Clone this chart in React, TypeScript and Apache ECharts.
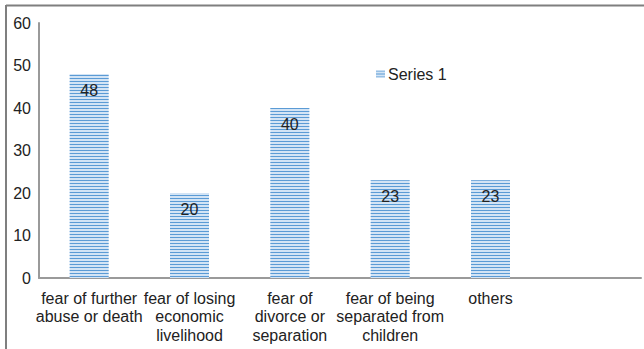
import React, { useEffect, useRef } from "react";
import * as echarts from "echarts";

const categories = [
  "fear of further\nabuse or death",
  "fear of losing\neconomic\nlivelihood",
  "fear of\ndivorce or\nseparation",
  "fear of being\nseparated from\nchildren",
  "others",
  "",
];
const seriesName = "Series 1";
const values: (number | null)[] = [48, 20, 40, 23, 23, null];
const yTicks = { min: 0, max: 60, interval: 10 };

const FONT = "'Liberation Sans', Arial, sans-serif";
const AXIS_GREY = "#9a9a9a";
const STRIPE = "#5b9bd5";
const STRIPE_BG = "#d3e4f5";

export default function App() {
  const ref = useRef<HTMLDivElement>(null);

  useEffect(() => {
    if (!ref.current) return;
    const chart = echarts.init(ref.current, undefined, { renderer: "svg" });
    // horizontal pinstripe fill for the bars and the legend key
    const decal = {
      symbol: "rect",
      symbolSize: 1,
      dashArrayX: [1, 0],
      dashArrayY: [1, 2],
      color: STRIPE,
      rotation: 0,
    };
    chart.setOption({
      animation: false,
      backgroundColor: "#ffffff",
      textStyle: { fontFamily: FONT },
      grid: { left: 39, top: 23, right: 3, bottom: 71, containLabel: false },
      legend: {
        left: 371,
        top: 61,
        itemWidth: 9,
        itemHeight: 7,
        itemGap: 4,
        icon: "rect",
        textStyle: { fontSize: 16, color: "#222", fontFamily: FONT, padding: [0, 0, 0, -2] },
        data: [seriesName],
      },
      xAxis: {
        type: "category",
        data: categories,
        axisLine: { lineStyle: { color: AXIS_GREY, width: 2 } },
        axisTick: { show: false },
        axisLabel: {
          interval: 0,
          color: "#222",
          fontSize: 16,
          lineHeight: 18.5,
          margin: 11,
          fontFamily: FONT,
        },
      },
      yAxis: {
        type: "value",
        min: yTicks.min,
        max: yTicks.max,
        interval: yTicks.interval,
        axisLine: { show: true, lineStyle: { color: AXIS_GREY, width: 2 } },
        axisTick: { show: false },
        splitLine: { show: false },
        axisLabel: { color: "#222", fontSize: 16, margin: 8, fontFamily: FONT },
      },
      series: [
        {
          name: seriesName,
          type: "bar",
          data: values,
          barWidth: 39,
          itemStyle: { color: STRIPE_BG, decal },
          label: {
            show: true,
            position: "insideTop",
            distance: 8,
            color: "#222",
            fontSize: 16,
            fontFamily: FONT,
          },
        },
      ],
      graphic: [
        {
          type: "line",
          shape: { x1: 6, y1: 5.5, x2: 644, y2: 5.5 },
          style: { stroke: "#7f7f7f", lineWidth: 2 },
        },
        {
          type: "line",
          shape: { x1: 6, y1: 5, x2: 6, y2: 349 },
          style: { stroke: "#7f7f7f", lineWidth: 2 },
        },
      ],
    });
    return () => chart.dispose();
  }, []);

  return (
    <div
      ref={ref}
      style={{ position: "fixed", left: 0, top: 0, width: 644, height: 349 }}
    />
  );
}
